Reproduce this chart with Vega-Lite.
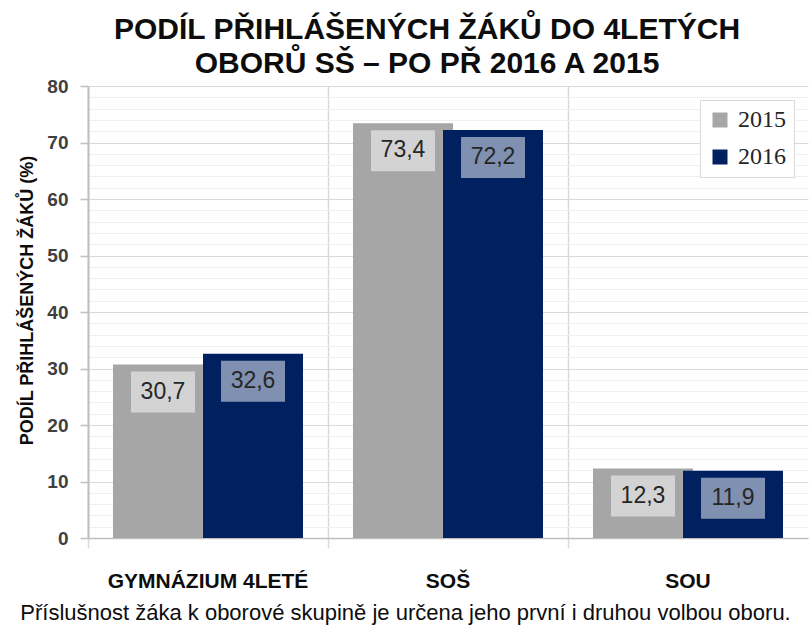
{
  "$schema": "https://vega.github.io/schema/vega-lite/v6.json",
  "width": 720,
  "height": 452,
  "autosize": {"type": "none"},
  "padding": {"left": 88, "top": 86, "right": 1, "bottom": 101},
  "background": "white",
  "title": {
    "text": ["PODÍL PŘIHLÁŠENÝCH ŽÁKŮ DO 4LETÝCH", "OBORŮ SŠ – PO PŘ 2016 A 2015"],
    "font": "Liberation Sans",
    "fontSize": 30,
    "fontWeight": "bold",
    "color": "#0d0d0d",
    "lineHeight": 34,
    "anchor": "middle",
    "dx": -21,
    "offset": -2
  },
  "data": {
    "values": [
      {"cat": "GYMNÁZIUM 4LETÉ", "year": "2015", "value": 30.7, "label": "30,7"},
      {"cat": "SOŠ", "year": "2015", "value": 73.4, "label": "73,4"},
      {"cat": "SOU", "year": "2015", "value": 12.3, "label": "12,3"},
      {"cat": "GYMNÁZIUM 4LETÉ", "year": "2016", "value": 32.6, "label": "32,6"},
      {"cat": "SOŠ", "year": "2016", "value": 72.2, "label": "72,2"},
      {"cat": "SOU", "year": "2016", "value": 11.9, "label": "11,9"}
    ]
  },
  "encoding": {
    "xOffset": {"field": "year", "type": "nominal", "scale": {"paddingInner": 0, "paddingOuter": 0.333}},
    "y": {
      "field": "value",
      "type": "quantitative",
      "scale": {"domain": [0, 80], "nice": false},
      "axis": {
        "title": "PODÍL PŘIHLÁŠENÝCH ŽÁKŮ (%)",
        "titleFont": "Liberation Sans",
        "titleFontSize": 18,
        "titleFontWeight": "bold",
        "titleColor": "#0d0d0d",
        "titlePadding": 10,
        "titleY": 214,
        "values": [0, 2, 4, 6, 8, 10, 12, 14, 16, 18, 20, 22, 24, 26, 28, 30, 32, 34, 36, 38, 40, 42, 44, 46, 48, 50, 52, 54, 56, 58, 60, 62, 64, 66, 68, 70, 72, 74, 76, 78, 80],
        "labelExpr": "datum.value % 10 === 0 ? datum.label : ''",
        "labelFont": "Liberation Sans",
        "labelFontSize": 19,
        "labelFontWeight": "bold",
        "labelColor": "#404040",
        "labelPadding": 12,
        "tickSize": 8,
        "tickColor": "#bfbfbf",
        "tickWidth": 1.5,
        "tickOpacity": {"condition": {"test": "datum.value % 10 === 0", "value": 1}, "value": 0},
        "domainColor": "#bfbfbf",
        "domainWidth": 2,
        "grid": true,
        "gridColor": {"condition": {"test": "datum.value % 10 === 0", "value": "#d9d9d9"}, "value": "#f0f0f0"},
        "gridWidth": 1
      }
    }
  },
  "layer": [
    {
      "mark": {"type": "bar", "width": 100},
      "encoding": {
        "x": {
          "field": "cat",
          "type": "nominal",
          "sort": ["GYMNÁZIUM 4LETÉ", "SOŠ", "SOU"],
          "scale": {"paddingInner": 0, "paddingOuter": 0},
          "axis": {
            "orient": "bottom",
            "bandPosition": 0,
            "title": null,
            "labels": false,
            "grid": true,
            "gridColor": "#d9d9d9",
            "gridWidth": 1.5,
            "ticks": true,
            "tickSize": 10,
            "tickColor": "#d9d9d9",
            "tickWidth": 1.5,
            "domain": true,
            "domainColor": "#bfbfbf",
            "domainWidth": 1.5
          }
        },
        "color": {
          "field": "year",
          "type": "nominal",
          "scale": {"domain": ["2015", "2016"], "range": ["#a6a6a6", "#002060"]},
          "legend": {
            "title": null,
            "orient": "top-right",
            "offset": 14,
            "fillColor": "white",
            "strokeColor": "#d9d9d9",
            "padding": 8,
            "rowPadding": 13,
            "labelFont": "Liberation Serif",
            "labelFontSize": 24,
            "labelColor": "#262626",
            "labelOffset": 6,
            "symbolType": "square",
            "symbolSize": 225,
            "symbolStrokeWidth": 0
          }
        }
      }
    },
    {
      "mark": {"type": "point", "shape": "M-1,0.219L1,0.219L1,1.5L-1,1.5Z", "filled": true, "fill": "white", "opacity": 0.5, "strokeWidth": 0, "size": 4096},
      "encoding": {
        "x": {
          "field": "cat",
          "type": "nominal",
          "sort": ["GYMNÁZIUM 4LETÉ", "SOŠ", "SOU"],
          "scale": {"paddingInner": 0, "paddingOuter": 0},
          "axis": {
            "orient": "bottom",
            "title": "Příslušnost žáka k oborové skupině je určena jeho první i druhou volbou oboru.",
            "titleFont": "Liberation Sans",
            "titleFontSize": 22,
            "titleFontWeight": "normal",
            "titleColor": "#0d0d0d",
            "titleX": 317,
            "titleY": 81,
            "titleBaseline": "alphabetic",
            "labels": true,
            "labelAngle": 0,
            "labelLimit": 0,
            "labelFont": "Liberation Sans",
            "labelFontSize": 21,
            "labelFontWeight": "bold",
            "labelColor": "#0d0d0d",
            "labelPadding": 32,
            "ticks": false,
            "grid": false,
            "domain": false
          }
        }
      }
    },
    {
      "mark": {"type": "text", "dy": 27, "baseline": "middle", "font": "Liberation Sans", "fontSize": 23, "color": "#262626"},
      "encoding": {
        "x": {
          "field": "cat",
          "type": "nominal",
          "sort": ["GYMNÁZIUM 4LETÉ", "SOŠ", "SOU"],
          "scale": {"paddingInner": 0, "paddingOuter": 0},
          "axis": null
        },
        "text": {"field": "label"}
      }
    }
  ],
  "resolve": {"axis": {"x": "independent"}},
  "config": {"view": {"stroke": null}}
}
